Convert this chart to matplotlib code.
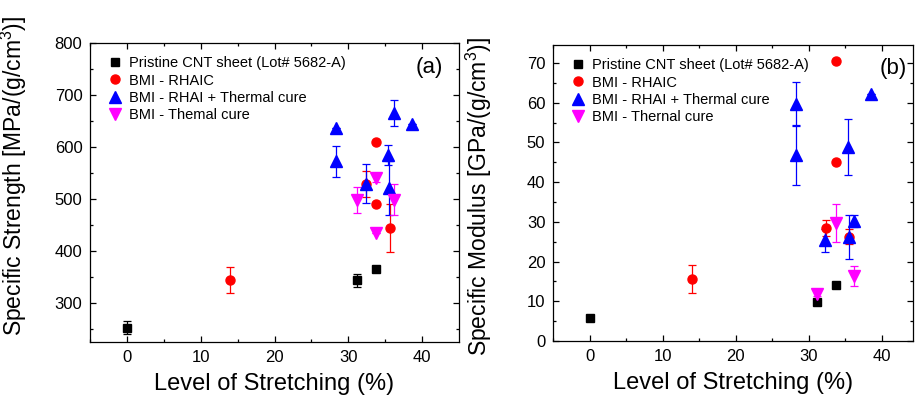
import numpy as np
import matplotlib
matplotlib.use('Agg')
import matplotlib.pyplot as plt

plt.rcParams['font.family'] = ['Liberation Sans', 'DejaVu Sans']
plt.rcParams['mathtext.fontset'] = 'custom'
plt.rcParams['mathtext.rm'] = 'Liberation Sans'
plt.rcParams['mathtext.it'] = 'Liberation Sans'

labels_a = ['Pristine CNT sheet (Lot# 5682-A)', 'BMI - RHAIC',
            'BMI - RHAI + Thermal cure', 'BMI - Themal cure']
labels_b = ['Pristine CNT sheet (Lot# 5682-A)', 'BMI - RHAIC',
            'BMI - RHAI + Thermal cure', 'BMI - Thernal cure']
colors = ['black', 'red', 'blue', 'magenta']
markers = ['s', 'o', '^', 'v']
msizes = [6, 6.5, 8.5, 8.5]

# (a) specific strength
pristine_x_a = [0, 31.2, 33.8]
pristine_y_a = [253, 344, 366]
pristine_e_a = [12, 12, 0]
rhaic_x_a = [14, 32.4, 33.8, 33.8, 35.6]
rhaic_y_a = [345, 530, 609, 491, 445]
rhaic_e_a = [25, 25, 0, 0, 46]
rhai_tc_x_a = [28.4, 28.4, 32.4, 35.4, 35.5, 36.2, 38.6]
rhai_tc_y_a = [636, 573, 530, 585, 522, 666, 644]
rhai_tc_e_a = [0, 30, 37, 19, 52, 25, 0]
thermal_x_a = [31.2, 33.8, 33.8, 36.2]
thermal_y_a = [498, 540, 435, 499]
thermal_e_a = [25, 8, 0, 30]

# (b) specific modulus
pristine_x_b = [0, 31.1, 33.8]
pristine_y_b = [5.7, 9.7, 14.2]
pristine_e_b = [0, 0, 0]
rhaic_x_b = [14, 32.4, 33.8, 33.8, 35.5]
rhaic_y_b = [15.6, 28.5, 70.4, 45.0, 26.3]
rhaic_e_b = [3.5, 2, 0, 0, 2]
rhai_tc_x_b = [28.3, 28.3, 32.3, 35.4, 35.6, 36.2, 38.5]
rhai_tc_y_b = [59.7, 46.9, 25.3, 48.9, 26.1, 30.2, 62.2]
rhai_tc_e_b = [5.5, 7.5, 2.8, 7, 5.5, 1.5, 0]
thermal_x_b = [31.1, 33.8, 36.2]
thermal_y_b = [11.8, 29.8, 16.3]
thermal_e_b = [0.5, 4.8, 2.5]

data_a = [(pristine_x_a, pristine_y_a, pristine_e_a), (rhaic_x_a, rhaic_y_a, rhaic_e_a),
          (rhai_tc_x_a, rhai_tc_y_a, rhai_tc_e_a), (thermal_x_a, thermal_y_a, thermal_e_a)]
data_b = [(pristine_x_b, pristine_y_b, pristine_e_b), (rhaic_x_b, rhaic_y_b, rhaic_e_b),
          (rhai_tc_x_b, rhai_tc_y_b, rhai_tc_e_b), (thermal_x_b, thermal_y_b, thermal_e_b)]


def draw(ax, data, labels, ylabel, tag, tagx):
    for i, (x, y, e) in enumerate(data):
        ax.errorbar(x, y, yerr=e, fmt='none', ecolor=colors[i], elinewidth=0.9,
                    capsize=3, capthick=0.9, zorder=2)
        ax.plot(x, y, linestyle='none', marker=markers[i], markersize=msizes[i],
                color=colors[i], label=labels[i], zorder=3)
    ax.set_xlim(-5, 45)
    ax.set_xticks([0, 10, 20, 30, 40])
    ax.set_xticks(np.arange(-5, 45, 5), minor=True)
    ax.tick_params(which='both', direction='in', top=True, right=True,
                   labelsize=12, width=0.9)
    ax.tick_params(which='major', length=4.5, pad=5.5)
    ax.tick_params(which='minor', length=2.5)
    for s in ax.spines.values():
        s.set_linewidth(0.9)
    ax.set_xlabel('Level of Stretching (%)', fontsize=17, labelpad=6)
    ax.set_ylabel(ylabel, fontsize=16.5)
    ax.text(tagx, 0.92, tag, transform=ax.transAxes, fontsize=16,
            ha='center', va='center')
    ax.legend(loc='upper left', bbox_to_anchor=(0.02, 0.985), frameon=False,
              fontsize=10.5, labelspacing=0.22, handletextpad=0.4,
              handlelength=1.2, borderaxespad=0.2)


fig = plt.figure(figsize=(9.15, 4.03), dpi=100)
ax0 = fig.add_axes([0.0984, 0.151, 0.4032, 0.742])
ax1 = fig.add_axes([0.6044, 0.154, 0.3934, 0.734])

draw(ax0, data_a, labels_a, r'Specific Strength [MPa/(g/cm$^3$)]', '(a)', 0.92)
ax0.set_ylim(225, 800)
ax0.set_yticks([300, 400, 500, 600, 700, 800])
ax0.set_yticks(np.arange(250, 801, 50), minor=True)
ax0.yaxis.set_label_coords(-0.165, 0.555)

draw(ax1, data_b, labels_b, r'Specific Modulus [GPa/(g/cm$^3$)]', '(b)', 0.944)
ax1.set_xlim(-5, 44.3)
ax1.set_ylim(0, 74.5)
ax1.set_yticks(np.arange(0, 71, 10))
ax1.set_yticks(np.arange(5, 75, 10), minor=True)
ax1.yaxis.set_label_coords(-0.165, 0.49)

plt.savefig('out.png', dpi=100)
